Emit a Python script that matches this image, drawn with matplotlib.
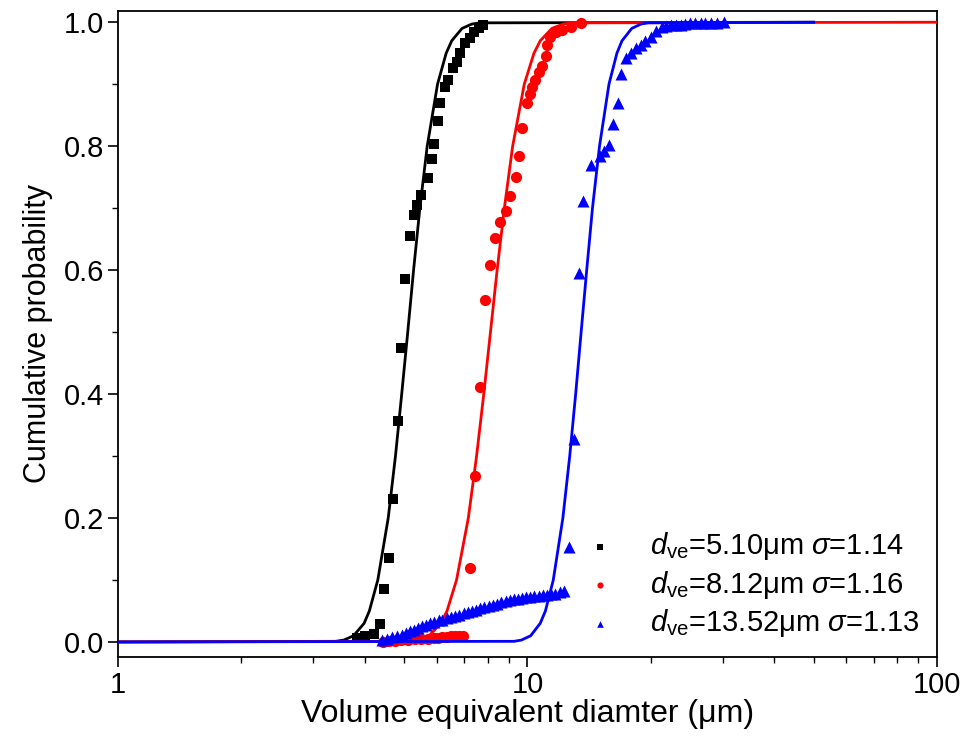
import matplotlib
matplotlib.use("Agg")
import matplotlib.pyplot as plt
from matplotlib.ticker import FixedLocator, NullFormatter

plt.rcParams['font.family'] = ['Liberation Sans', 'DejaVu Sans']
plt.rcParams['mathtext.fontset'] = 'custom'
plt.rcParams['mathtext.rm'] = 'Liberation Sans'
plt.rcParams['mathtext.it'] = 'Liberation Sans:italic'

# measured points (diameter in um, cumulative probability)
black_x = [3.83, 4.02, 4.21, 4.37, 4.47, 4.58, 4.70, 4.82, 4.91, 5.03, 5.16, 5.27,
           5.37, 5.48, 5.71, 5.83, 5.92, 6.03, 6.13, 6.30, 6.40, 6.58, 6.71, 6.86,
           7.05, 7.23, 7.39, 7.60, 7.79]
black_y = [0.006, 0.010, 0.013, 0.029, 0.086, 0.136, 0.230, 0.357, 0.474, 0.585, 0.655, 0.689,
           0.705, 0.722, 0.749, 0.779, 0.804, 0.841, 0.869, 0.895, 0.906, 0.926, 0.936, 0.950,
           0.966, 0.975, 0.984, 0.991, 0.996]

red_x = [4.45, 4.60, 4.75, 4.90, 5.10, 5.30, 5.50, 5.70, 5.90, 6.05, 6.20, 6.35,
         6.50, 6.65, 6.80, 6.95, 7.23, 7.46, 7.67, 7.89, 8.12, 8.35, 8.59, 8.84,
         9.05, 9.35, 9.52, 9.71, 9.98, 10.17, 10.27, 10.46, 10.66, 10.86, 11.07,
         11.17, 11.38, 11.71, 12.16, 12.74, 13.48]
red_y = [0.000, 0.001, 0.002, 0.003, 0.003, 0.004, 0.004, 0.005, 0.006, 0.007, 0.008, 0.008,
         0.009, 0.009, 0.010, 0.010, 0.120, 0.267, 0.411, 0.551, 0.608, 0.652, 0.678, 0.695,
         0.719, 0.750, 0.784, 0.830, 0.869, 0.884, 0.896, 0.906, 0.919, 0.929, 0.946,
         0.963, 0.976, 0.984, 0.988, 0.993, 0.998]

blue_x = [4.41, 4.55, 4.68, 4.80, 4.93, 5.05, 5.17, 5.27, 5.40, 5.52, 5.65, 5.79,
          5.92, 6.07, 6.20, 6.36, 6.50, 6.66, 6.82, 6.99, 7.15, 7.32, 7.50, 7.67,
          7.85, 8.05, 8.24, 8.43, 8.63, 8.84, 9.05, 9.26, 9.48, 9.70, 9.93, 10.17,
          10.40, 10.65, 10.90, 11.17, 11.43, 11.70, 11.98, 12.27,
          12.62, 12.98, 13.35, 13.70, 14.30, 15.00, 15.40, 15.80, 16.20, 16.60,
          16.90, 17.40, 17.90, 18.40, 18.90, 19.40, 20.00, 20.60, 21.30, 21.80,
          22.40, 23.00, 23.70, 24.30, 25.00, 25.70, 26.50, 27.20, 28.00, 29.00, 30.20]
blue_y = [0.003, 0.005, 0.008, 0.010, 0.012, 0.014, 0.017, 0.019, 0.022, 0.025, 0.027, 0.030,
          0.032, 0.035, 0.036, 0.038, 0.040, 0.042, 0.044, 0.046, 0.048, 0.050, 0.052, 0.054,
          0.056, 0.058, 0.060, 0.062, 0.064, 0.066, 0.067, 0.069, 0.070, 0.071, 0.072, 0.073,
          0.074, 0.074, 0.075, 0.076, 0.077, 0.078, 0.080, 0.083,
          0.153, 0.327, 0.595, 0.712, 0.769, 0.784, 0.792, 0.802, 0.836, 0.869,
          0.917, 0.943, 0.951, 0.958, 0.963, 0.969, 0.976, 0.986, 0.993, 0.994,
          0.995, 0.995, 0.996, 0.997, 0.998, 0.998, 0.998, 0.998, 0.998, 0.999, 1.000]

# fitted curves at fixed probability levels
fit_y = [0.0, 0.001, 0.003, 0.01, 0.03, 0.05, 0.1, 0.2, 0.3, 0.4, 0.5,
         0.6, 0.7, 0.8, 0.9, 0.95, 0.97, 0.99, 0.997, 0.999, 1.0]
fit_black = [1.0, 3.40, 3.56, 3.76, 3.99, 4.11, 4.31, 4.57, 4.76, 4.93, 5.10,
             5.27, 5.46, 5.69, 6.03, 6.33, 6.53, 6.92, 7.31, 7.64, 50.0]
fit_red = [1.0, 5.13, 5.40, 5.75, 6.14, 6.36, 6.71, 7.17, 7.51, 7.82, 8.12,
           8.43, 8.78, 9.20, 9.82, 10.37, 10.74, 11.47, 12.21, 12.84, 100.0]
fit_blue = [1.0, 9.27, 9.66, 10.18, 10.74, 11.06, 11.56, 12.20, 12.68, 13.11, 13.52,
            13.95, 14.41, 14.99, 15.81, 16.53, 17.01, 17.97, 18.92, 19.72, 50.0]

labels = [r'$d_{\mathrm{ve}}$=5.10μm $\sigma$=1.14',
          r'$d_{\mathrm{ve}}$=8.12μm $\sigma$=1.16',
          r'$d_{\mathrm{ve}}$=13.52μm $\sigma$=1.13']

fig = plt.figure(figsize=(9.67, 7.38), dpi=100)
ax = fig.add_axes([0.122, 0.110, 0.847, 0.875])

lw = 2.0
ax.plot(fit_black, fit_y, color='black', lw=lw, zorder=2)
hb = ax.scatter(black_x, black_y, marker='s', s=60, color='black', lw=0, zorder=3, label=labels[0])
ax.plot(fit_red, fit_y, color='red', lw=lw, zorder=4)
hr = ax.scatter(red_x, red_y, marker='o', s=65, color='red', lw=0, zorder=5, label=labels[1])
ax.plot(fit_blue, fit_y, color='blue', lw=lw, zorder=6)
hbl = ax.scatter(blue_x, blue_y, marker='^', s=75, color='blue', lw=0, zorder=7, label=labels[2])

ax.set_xscale('log')
ax.set_xlim(1, 100)
ax.set_ylim(-0.024, 1.018)
ax.xaxis.set_major_locator(FixedLocator([1, 10, 100]))
ax.set_xticklabels(['1', '10', '100'])
ax.xaxis.set_minor_formatter(NullFormatter())
ax.set_yticks([0.0, 0.2, 0.4, 0.6, 0.8, 1.0])
ax.set_yticklabels(['0.0', '0.2', '0.4', '0.6', '0.8', '1.0'])
ax.set_yticks([0.1, 0.3, 0.5, 0.7, 0.9], minor=True)

ax.tick_params(which='major', direction='out', length=7, width=1.2, labelsize=21,
               colors='black', pad=3)
ax.tick_params(which='minor', direction='out', length=4, width=1.0)
for sp in ax.spines.values():
    sp.set_linewidth(1.3)

ax.set_xlabel('Volume equivalent diamter (μm)', fontsize=23, labelpad=0)
ax.set_ylabel('Cumulative probability', fontsize=22, labelpad=8)

leg = ax.legend(handles=[hb, hr, hbl], loc='lower right', bbox_to_anchor=(1.0, 0.0),
                frameon=False, fontsize=21, markerscale=0.55, handletextpad=1.2,
                handlelength=1.0, labelspacing=0.22, borderaxespad=0.2)

fig.savefig('out.png', dpi=100)
